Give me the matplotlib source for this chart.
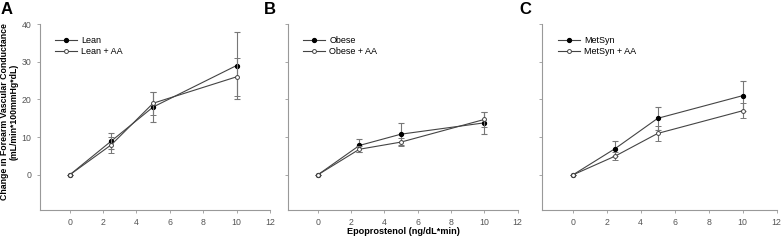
import matplotlib.pyplot as plt
from matplotlib.lines import Line2D

plt.rcParams["font.family"] = ["Liberation Sans", "DejaVu Sans"]

dose = [0, 2.5, 5, 10]

lean = [0, 9.0, 18.0, 29.0]
lean_err = [0, 2.1, 4.0, 9.0]
lean_aa = [0, 8.0, 19.0, 26.0]
lean_aa_err = [0, 2.1, 3.0, 5.0]

obese = [0, 7.8, 10.8, 13.8]
obese_err = [0, 1.8, 3.0, 3.0]
obese_aa = [0, 6.8, 8.7, 14.7]
obese_aa_err = [0, 0.8, 1.0, 2.0]

metsyn = [0, 7.0, 15.0, 21.0]
metsyn_err = [0, 2.0, 3.0, 4.0]
metsyn_aa = [0, 5.0, 11.0, 17.0]
metsyn_aa_err = [0, 1.0, 2.0, 2.0]

panels = [
    ("A", "Lean", lean, lean_err, lean_aa, lean_aa_err),
    ("B", "Obese", obese, obese_err, obese_aa, obese_aa_err),
    ("C", "MetSyn", metsyn, metsyn_err, metsyn_aa, metsyn_aa_err),
]

W, H = 781, 242
fig = plt.figure(figsize=(W / 100, H / 100), dpi=100)

# axes boxes in pixels: left, right, letter x
boxes = [(39.6, 270.0, 1), (287.7, 517.6, 264), (542.3, 776.5, 519)]
top_px, bot_px = 24, 210

line_col = "#444444"
err_col = "#777777"
spine_col = "#999999"
tick_col = "#555555"
ms = 2.8

for i, ((letter, name, y1, e1, y2, e2), (l, r, lx)) in enumerate(zip(panels, boxes)):
    ax = fig.add_axes([l / W, 1 - bot_px / H, (r - l) / W, (bot_px - top_px) / H])
    ax.errorbar(dose, y1, yerr=e1, color=line_col, lw=0.8, ecolor=err_col,
                elinewidth=0.8, capsize=2.0, capthick=0.8, marker="o", ms=ms,
                mfc="black", mec="black", zorder=3)
    ax.errorbar(dose, y2, yerr=e2, color=line_col, lw=0.8, ecolor=err_col,
                elinewidth=0.8, capsize=2.0, capthick=0.8, marker="o", ms=ms,
                mfc="white", mec=line_col, mew=0.7, zorder=4)
    ax.set_xlim(-1.8, 12)
    ax.set_ylim(-9.3, 40)
    ax.set_xticks([0, 2, 4, 6, 8, 10, 12])
    ax.set_yticks([0, 10, 20, 30, 40])
    for s in ["top", "right"]:
        ax.spines[s].set_visible(False)
    for s in ["left", "bottom"]:
        ax.spines[s].set_color(spine_col)
        ax.spines[s].set_linewidth(0.8)
    ax.tick_params(length=2.5, width=0.6, color=spine_col, labelsize=6.3,
                   labelcolor=tick_col, pad=3.5)
    if i > 0:
        ax.tick_params(axis="y", labelleft=False)
    handles = [
        Line2D([], [], color=line_col, lw=0.8, marker="o", ms=ms,
               mfc="black", mec="black"),
        Line2D([], [], color=line_col, lw=0.8, marker="o", ms=ms,
               mfc="white", mec=line_col, mew=0.7),
    ]
    ax.legend(handles, [name, name + " + AA"], loc="upper left",
              bbox_to_anchor=(0.04, 0.97), frameon=False, fontsize=6.5,
              handlelength=2.4, handletextpad=0.5, labelspacing=0.25,
              borderaxespad=0.3)
    fig.text(lx / W, 1 - 2 / H, letter, fontsize=12, fontweight="bold",
             ha="left", va="top")

fig.text(9 / W, 1 - 112 / H,
         "Change in Forearm Vascular Conductance\n(mL/min*100mmHg*dL)",
         rotation=90, fontsize=6.3, fontweight="bold", ha="center", va="center",
         linespacing=1.1)
fig.text(403 / W, 1 - 232 / H, "Epoprostenol (ng/dL*min)", fontsize=6.6,
         fontweight="bold", ha="center", va="center")

fig.savefig("out.png", dpi=100)
